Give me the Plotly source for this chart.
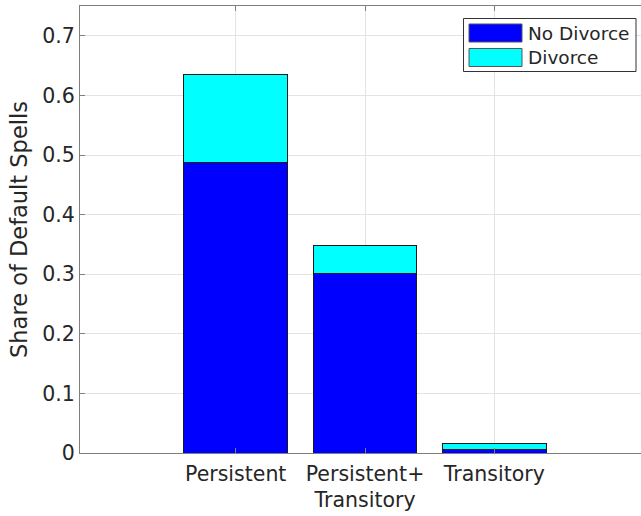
import plotly.graph_objects as go

categories = ["Persistent", "Persistent+<br>Transitory", "Transitory"]
x_pos = [1, 2, 3]
series_names = ["No Divorce", "Divorce"]
no_divorce = [0.488, 0.302, 0.0057]
divorce = [0.147, 0.046, 0.011]
y_ticks = [0, 0.1, 0.2, 0.3, 0.4, 0.5, 0.6, 0.7]
y_tick_labels = ["0", "0.1", "0.2", "0.3", "0.4", "0.5", "0.6", "0.7"]

font_family = "DejaVu Sans"
axis_color = "#7f7f7f"
grid_color = "#e3e3e3"
text_color = "#262626"
colors = ["#0000FF", "#00FFFF"]

W, H = 641, 516
ML, MR, MT, MB = 80, 0, 6, 63
PW, PH = W - ML - MR, H - MT - MB


def px_x(px):
    return (px - ML) / PW


def px_y(py):
    return (H - MB - py) / PH


fig = go.Figure()
for name, vals, col in zip(series_names, [no_divorce, divorce], colors):
    fig.add_trace(go.Bar(x=x_pos, y=vals, name=name, width=0.8, showlegend=False,
                         marker=dict(color=col, line=dict(color="#1a1a1a", width=1))))

# Legend drawn MATLAB-style (large swatches)
shapes = [dict(type="rect", xref="paper", yref="paper",
               x0=px_x(463.5), x1=px_x(636), y0=px_y(71.5), y1=px_y(18.5),
               line=dict(color="#333333", width=1), fillcolor="white", layer="above")]
annotations = []
row_tops = [24, 48.5]
for name, col, top in zip(series_names, colors, row_tops):
    shapes.append(dict(type="rect", xref="paper", yref="paper",
                       x0=px_x(469), x1=px_x(522), y0=px_y(top + 18), y1=px_y(top),
                       line=dict(color="#555555", width=1), fillcolor=col, layer="above"))
    annotations.append(dict(xref="paper", yref="paper", x=px_x(526), y=px_y(top + 9.5),
                            xanchor="left", yanchor="middle", text=name, showarrow=False,
                            font=dict(size=18.5, color=text_color, family=font_family)))

fig.update_layout(
    barmode="stack",
    width=W, height=H,
    margin=dict(l=ML, r=MR, t=MT, b=MB, autoexpand=False),
    paper_bgcolor="white", plot_bgcolor="white",
    font=dict(family=font_family, color=text_color, size=20),
    showlegend=False,
    shapes=shapes,
    annotations=annotations,
)
fig.update_xaxes(range=[-0.204, 4.134], tickvals=x_pos, ticktext=categories,
                 showgrid=True, gridcolor=grid_color, gridwidth=1,
                 showline=True, linecolor=axis_color, linewidth=1, mirror="ticks",
                 ticks="inside", ticklen=5, tickcolor=axis_color,
                 tickfont=dict(size=20.5, color=text_color), zeroline=False,
                 ticklabelstandoff=2, automargin=False)
fig.update_yaxes(range=[0, 0.75], tickvals=y_ticks, ticktext=y_tick_labels,
                 showgrid=True, gridcolor=grid_color, gridwidth=1,
                 showline=True, linecolor=axis_color, linewidth=1,
                 ticks="inside", ticklen=5, tickcolor=axis_color,
                 tickfont=dict(size=20.5, color=text_color), zeroline=False,
                 automargin=False,
                 title=dict(text="Share of Default Spells", font=dict(size=22.5, color=text_color), standoff=8))

fig.write_html("out.html", config={"displayModeBar": False},
               post_script="document.body.style.margin='0px';")
